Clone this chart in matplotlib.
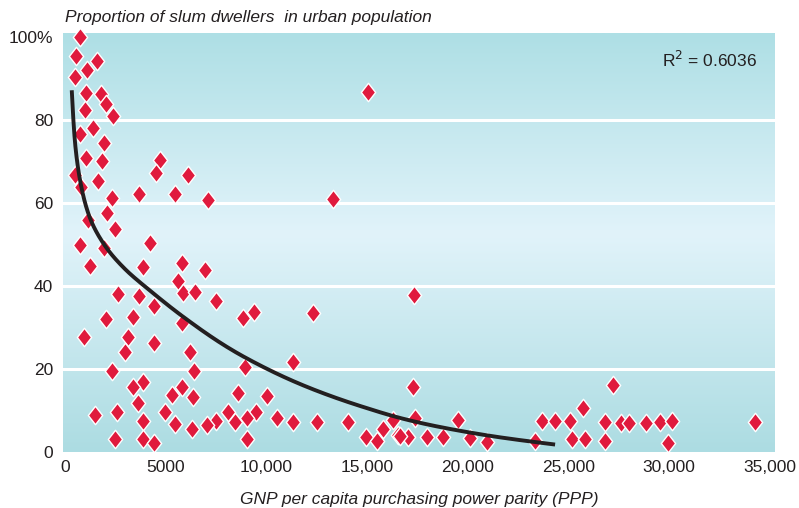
import numpy as np
import matplotlib.pyplot as plt
from matplotlib.path import Path
from matplotlib.colors import LinearSegmentedColormap

plt.rcParams['font.family'] = ['Liberation Sans', 'DejaVu Sans']

# GNP per capita (PPP) and share of urban population living in slums, by country
gnp = [745, 546, 497, 1092, 1589, 1043, 1787, 2036, 993, 2383,
       1390, 745, 1936, 1043, 1837, 4717, 4518, 6107, 497, 1639,
       794, 3674, 5462, 2334, 7100, 13307, 2085, 1142, 2483, 4220,
       745, 1936, 15045, 1241, 3873, 5809, 6951, 5611, 5859, 6455,
       2632, 3674, 7497, 4419, 9384, 12314, 8838, 3376, 2036, 5809,
       943, 3128, 4419, 2979, 6207, 11321, 2334, 8937, 6405, 3873,
       3376, 5809, 8590, 5313, 6355, 10030, 3625, 1490, 2582, 4965,
       8093, 9484, 8441, 9037, 10526, 11321, 12512, 14052, 7497, 7051,
       5462, 3873, 6306, 2483, 3873, 4419, 9037, 14945, 15492, 15790,
       16286, 16534, 17329, 17279, 17378, 17031, 16634, 17974, 18769, 19513,
       20109, 20953, 23337, 23684, 24330, 25074, 25174, 25720, 25819, 26812,
       26812, 27210, 27607, 28004, 28848, 29543, 30139, 29940, 34260]
slum_share = [100, 95.4, 90.4, 92.0, 94.2, 86.5, 86.3, 83.9, 82.4, 81.0,
              78.1, 76.6, 74.5, 70.8, 70.1, 70.4, 67.2, 66.7, 66.7, 65.3,
              63.9, 62.2, 62.2, 61.2, 60.7, 61.0, 57.6, 55.9, 53.7, 50.4,
              49.9, 49.2, 86.7, 44.8, 44.6, 45.5, 43.9, 41.2, 38.3, 38.6,
              38.1, 37.6, 36.4, 35.2, 33.7, 33.5, 32.3, 32.5, 32.0, 31.1,
              27.7, 27.7, 26.3, 24.1, 24.1, 21.7, 19.5, 20.5, 19.5, 16.9,
              15.7, 15.7, 14.2, 13.7, 13.3, 13.5, 11.8, 8.9, 9.6, 9.6,
              9.6, 9.6, 7.2, 8.2, 8.2, 7.2, 7.2, 7.2, 7.5, 6.5,
              6.7, 7.5, 5.5, 3.1, 3.1, 2.2, 3.1, 3.6, 2.7, 5.5,
              7.7, 4.1, 37.8, 15.7, 8.2, 3.6, 3.9, 3.6, 3.6, 7.7,
              3.4, 2.4, 2.7, 7.5, 7.5, 7.5, 3.1, 10.6, 3.1, 7.2,
              2.7, 16.1, 7.0, 7.0, 7.0, 7.2, 7.5, 2.2, 7.2]

# points along the trend line
trend_gnp = [333, 497, 745, 1192, 1986, 2979, 4220, 5809, 8937, 12165, 14647, 17130, 21102, 24330]
trend_share = [87.2, 74.5, 65.5, 57.0, 49.7, 44.1, 38.9, 32.8, 22.8, 15.4, 11.1, 7.6, 3.9, 1.8]
r_squared = 0.6036

y_ticks = [0, 20, 40, 60, 80, 100]
y_labels = ['0', '20', '40', '60', '80', '100%']
x_ticks = [0, 5000, 10000, 15000, 20000, 25000, 30000, 35000]
x_labels = ['0', '5000', '10,000', '15,000', '20,000', '25,000', '30,000', '35,000']


def pchip(xk, yk, xs):
    # monotone cubic (Fritsch-Carlson) through the given points
    xk, yk = np.asarray(xk, float), np.asarray(yk, float)
    h = np.diff(xk)
    d = np.diff(yk) / h
    m = np.zeros_like(yk)
    for i in range(1, len(xk) - 1):
        if d[i - 1] * d[i] > 0:
            w1 = 2 * h[i] + h[i - 1]
            w2 = h[i] + 2 * h[i - 1]
            m[i] = (w1 + w2) / (w1 / d[i - 1] + w2 / d[i])
    m[0], m[-1] = d[0], d[-1]
    idx = np.clip(np.searchsorted(xk, xs) - 1, 0, len(h) - 1)
    t = (xs - xk[idx]) / h[idx]
    h00 = 2 * t**3 - 3 * t**2 + 1
    h10 = t**3 - 2 * t**2 + t
    h01 = -2 * t**3 + 3 * t**2
    h11 = t**3 - t**2
    return (h00 * yk[idx] + h10 * h[idx] * m[idx]
            + h01 * yk[idx + 1] + h11 * h[idx] * m[idx + 1])


fig = plt.figure(figsize=(7.99, 5.08), dpi=100)
ax = fig.add_axes([0.0789, 0.1102, 0.8911, 0.8248])
x_min, x_max, y_min, y_max = -100, 35250, 0, 101
ax.set_xlim(x_min, x_max)
ax.set_ylim(y_min, y_max)

# vertical teal gradient, lighter in the middle
cmap = LinearSegmentedColormap.from_list(
    'bg', [(0, '#acdce2'), (0.52, '#e1f3fa'), (1, '#aedfe5')])
grad = np.linspace(0, 1, 256).reshape(-1, 1)
ax.imshow(grad, cmap=cmap, aspect='auto', origin='lower',
          extent=[x_min, x_max, y_min, y_max], zorder=0)

for yv in y_ticks[1:-1]:
    ax.axhline(yv, color='white', lw=2.2, zorder=1)

diamond = Path([(0, 1), (0.78, 0), (0, -1), (-0.78, 0), (0, 1)],
               [Path.MOVETO, Path.LINETO, Path.LINETO, Path.LINETO, Path.CLOSEPOLY])
ax.scatter(gnp, slum_share, marker=diamond, s=175, color='#e01a3d',
           edgecolor='white', linewidth=1.0, zorder=3, clip_on=False)

# trend line, smoothed in log(GNP)
lx = np.log(trend_gnp)
tx = np.linspace(lx[0], lx[-1], 400)
ax.plot(np.exp(tx), pchip(lx, trend_share, tx), color='#231f20', lw=2.8,
        solid_capstyle='butt', zorder=4)

ax.text(0.975, 0.936, 'R$^2$ = %.4f' % r_squared, transform=ax.transAxes,
        ha='right', va='center', fontsize=12.5, color='#231f20')

ax.set_yticks(y_ticks)
ax.set_yticklabels(y_labels)
ax.set_xticks(x_ticks)
ax.set_xticklabels(x_labels)
ax.tick_params(length=0, labelsize=12.5, labelcolor='#231f20', pad=6)
ax.tick_params(axis='y', pad=7)
for s in ax.spines.values():
    s.set_visible(False)

fig.text(0.081, 0.965, 'Proportion of slum dwellers  in urban population',
         fontsize=12.5, style='italic', color='#231f20', va='center')
ax.set_xlabel('GNP per capita purchasing power parity (PPP)', fontsize=12.5,
              style='italic', color='#231f20', labelpad=12)

fig.savefig('out.png', dpi=100)
